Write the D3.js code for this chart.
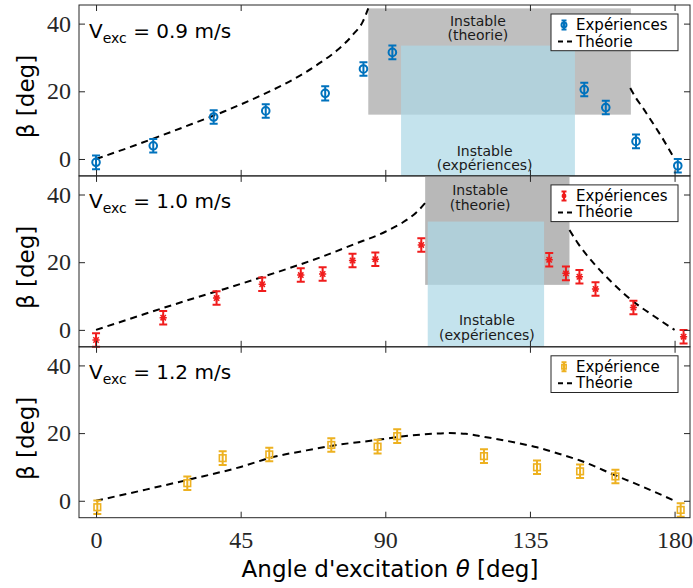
<!DOCTYPE html>
<html>
<head>
<meta charset="utf-8">
<script src="https://cdn.jsdelivr.net/npm/d3@7"></script>
<style>
  body { margin: 0; background: #fff; }
  svg { display: block; }
</style>
</head>
<body>
<svg class="chart"></svg>
<script>
const W = 693, H = 588;
const margin = {top: 5, left: 79, right: 3};
const panelH = 170.9;

const thetaTicks = [0, 45, 90, 135, 180];
const betaTicks = [0, 20, 40];
const speeds = ['0.9', '1.0', '1.2'];
const legendNames = ['Expériences', 'Expériences', 'Expérience'];

// V = 0.9 m/s
const theta09 = [0, 17.8, 36.6, 52.8, 71.3, 83.2, 92.2, 151.9, 158.6, 168.0, 181.0];
const beta09  = [-1.0, 3.9, 12.4, 14.2, 19.4, 26.6, 31.5, 20.5, 15.2, 5.2, -2.0];
const err09   = [2, 2, 2, 2, 2.1, 2, 2, 2, 2, 2, 2];
const theoL09 = [[0, 0], [10, 3.3], [20, 6.8], [30, 10.4], [40, 14.1], [50, 18.2], [60, 22.8], [65, 25.5], [70, 28.6], [75, 32.1], [80, 36.8], [83, 40.6], [84.7, 44.5]];
const theoR09 = [[166.2, 21], [168, 18], [170, 15.3], [172, 12.4], [174, 9.5], [176, 6.5], [178, 3.3], [180, 0]];
const unstTheo09 = [84.7, 166.4, 13.1, 44.5];
const unstExp09  = [94.9, 149.0, -8, 33.5];
const labelPos09 = [118.8, 120.9];   // theta of the two "Instable" captions

// V = 1.0 m/s
const theta10 = [0, 20.9, 37.5, 51.7, 63.7, 70.5, 79.8, 86.9, 101.2, 141.0, 146.2, 150.4, 155.4, 167.2, 182.8];
const beta10  = [-3.0, 3.6, 9.4, 13.5, 16.2, 16.5, 20.5, 20.9, 25.1, 20.7, 16.7, 15.7, 12.1, 6.6, -2.0];
const err10   = [2, 2, 2, 2, 2, 2, 2, 2, 2, 2, 2, 2, 2, 2, 2];
const theoL10 = [[0, 0], [10, 3.1], [20, 6.2], [30, 9.2], [40, 12.1], [50, 15.1], [60, 18.2], [70, 21.5], [80, 25.2], [90, 29], [95, 31.5], [100, 35], [102.4, 37.5]];
const theoR10 = [[147.3, 29.5], [150, 25.5], [155, 19.5], [160, 14.5], [167, 8.5], [174, 3.8], [180, 0]];
const unstTheo10 = [102.4, 147.3, 13.3, 47];
const unstExp10  = [103.2, 139.4, -8, 32];
const labelPos10 = [119.5, 121.6];

// V = 1.2 m/s
const theta12 = [0.4, 28.4, 39.4, 53.9, 73.2, 87.6, 93.7, 120.7, 137.2, 150.6, 161.6, 181.9];
const beta12  = [-1.9, 5.2, 12.6, 13.7, 16.5, 16.0, 19.1, 13.2, 9.9, 8.7, 7.2, -2.7];
const err12   = [2, 2, 2, 2, 2, 2, 2, 2, 2, 2, 2, 2];
const theo12  = [[0, 0], [15, 3.2], [30, 6.5], [45, 10], [55, 12.9], [65, 14.8], [75, 16.5], [87.6, 18], [95, 19], [105, 19.8], [110, 20], [115, 19.8], [120.7, 18.9], [130, 17.3], [137.2, 15.8], [145, 13.6], [150.6, 11.9], [161.6, 7.5], [170, 4.2], [180, 0]];

const panels = [
  {v: speeds[0], theta: theta09, beta: beta09, err: err09, curves: [theoL09, theoR09], color: '#0072bd', marker: 'circle',
   gray: unstTheo09, grayFill: '#bfbfbf', cyan: unstExp09, labels: labelPos09, legend: legendNames[0]},
  {v: speeds[1], theta: theta10, beta: beta10, err: err10, curves: [theoL10, theoR10], color: '#f01c1c', marker: 'star',
   gray: unstTheo10, grayFill: '#b8b8b8', cyan: unstExp10, labels: labelPos10, legend: legendNames[1]},
  {v: speeds[2], theta: theta12, beta: beta12, err: err12, curves: [theo12], color: '#edb120', marker: 'square',
   gray: null, cyan: null, labels: null, legend: legendNames[2]}
];

const svg = d3.select('.chart').attr('width', W).attr('height', H);

const x = d3.scaleLinear().domain([-5.3, 184.8]).range([margin.left, W - margin.right]);
const y = d3.scaleLinear().domain([-5, 45.5]).range([panelH, 0]);

const axisColor = '#262626';
const tickFont = '"Liberation Serif", "DejaVu Serif", serif';
const sansFont = '"DejaVu Sans", sans-serif';

const line = d3.line().x(d => x(d[0])).y(d => y(d[1])).curve(d3.curveMonotoneX);

function drawMarker(g, kind, cx, cy, color, s) {
  if (kind === 'circle') {
    g.append('circle').attr('cx', cx).attr('cy', cy).attr('r', 3.8 * s)
      .attr('fill', 'none').attr('stroke', color).attr('stroke-width', 2);
  } else if (kind === 'square') {
    g.append('rect').attr('x', cx - 3.3 * s).attr('y', cy - 3.3 * s)
      .attr('width', 6.6 * s).attr('height', 6.6 * s)
      .attr('fill', 'none').attr('stroke', color).attr('stroke-width', 1.6);
  } else {
    const r = 3.6 * s;
    g.append('path')
      .attr('d', `M${cx - r},${cy}H${cx + r}M${cx},${cy - r}V${cy + r}` +
        `M${cx - r * 0.75},${cy - r * 0.75}L${cx + r * 0.75},${cy + r * 0.75}` +
        `M${cx - r * 0.75},${cy + r * 0.75}L${cx + r * 0.75},${cy - r * 0.75}`)
      .attr('stroke', color).attr('stroke-width', 1.5).attr('fill', 'none');
  }
}

function errorBar(g, cx, y0, y1, capW, color) {
  g.append('path')
    .attr('d', `M${cx},${y0}V${y1}M${cx - capW},${y0}H${cx + capW}M${cx - capW},${y1}H${cx + capW}`)
    .attr('stroke', color).attr('stroke-width', 2).attr('fill', 'none');
}

function twoLines(g, cx, y0, a, b) {
  const t = g.append('text').attr('x', cx).attr('y', y0)
    .attr('text-anchor', 'middle').style('font-family', sansFont).style('font-size', '14px').attr('fill', '#1a1a1a');
  t.append('tspan').attr('x', cx).text(a);
  t.append('tspan').attr('x', cx).attr('dy', 14.5).text(b);
}

panels.forEach((p, i) => {
  const top = margin.top + i * panelH;
  const g = svg.append('g').attr('transform', `translate(0,${top})`);

  const clipId = 'clip' + i;
  g.append('clipPath').attr('id', clipId)
    .append('rect').attr('x', x.range()[0]).attr('y', 0)
    .attr('width', x.range()[1] - x.range()[0]).attr('height', panelH);

  const plot = g.append('g').attr('clip-path', `url(#${clipId})`);

  // unstable regions
  if (p.gray) {
    plot.append('rect')
      .attr('x', x(p.gray[0])).attr('width', x(p.gray[1]) - x(p.gray[0]))
      .attr('y', y(p.gray[3])).attr('height', y(p.gray[2]) - y(p.gray[3]))
      .attr('fill', p.grayFill);
    plot.append('rect')
      .attr('x', x(p.cyan[0])).attr('width', x(p.cyan[1]) - x(p.cyan[0]))
      .attr('y', y(p.cyan[3])).attr('height', y(p.cyan[2]) - y(p.cyan[3]))
      .attr('fill', '#add8e6').attr('fill-opacity', 0.72);

    twoLines(plot, x(p.labels[0]), i === 0 ? 20.5 : 19.5, 'Instable', '(theorie)');
    twoLines(plot, x(p.labels[1]), i === 0 ? 150.5 : 149.5, 'Instable', '(expériences)');
  }

  // theory curves
  p.curves.forEach(c => {
    plot.append('path').datum(c).attr('d', line)
      .attr('fill', 'none').attr('stroke', '#000').attr('stroke-width', 2)
      .attr('stroke-dasharray', '7,5');
  });

  // experiments
  const pts = p.theta.map((t, k) => ({t, b: p.beta[k], e: p.err[k]}));
  pts.forEach(d => {
    errorBar(g, x(d.t), y(d.b - d.e), y(d.b + d.e), 4, p.color);
    drawMarker(g, p.marker, x(d.t), y(d.b), p.color, 1);
  });

  // frame and ticks
  g.append('rect').attr('x', x.range()[0]).attr('y', 0)
    .attr('width', x.range()[1] - x.range()[0]).attr('height', panelH)
    .attr('fill', 'none').attr('stroke', axisColor).attr('stroke-width', 1);

  const yl = g.append('g').attr('transform', `translate(${x.range()[0]},0)`)
    .call(d3.axisLeft(y).tickValues(betaTicks).tickSizeInner(-6).tickSizeOuter(0).tickPadding(8));
  const yr = g.append('g').attr('transform', `translate(${x.range()[1]},0)`)
    .call(d3.axisRight(y).tickValues(betaTicks).tickSizeInner(-6).tickSizeOuter(0).tickFormat(''));
  const xt = g.append('g').attr('transform', 'translate(0,0)')
    .call(d3.axisTop(x).tickValues(thetaTicks).tickSizeInner(-6).tickSizeOuter(0).tickFormat(''));
  const xb = g.append('g').attr('transform', `translate(0,${panelH})`)
    .call(d3.axisBottom(x).tickValues(thetaTicks).tickSizeInner(-6).tickSizeOuter(0).tickPadding(13)
      .tickFormat(i === panels.length - 1 ? d3.format('d') : ''));

  [yl, yr, xt, xb].forEach(a => {
    a.select('.domain').remove();
    a.selectAll('line').attr('stroke', axisColor);
    a.selectAll('text').attr('fill', axisColor).style('font-family', tickFont).style('font-size', '24px');
  });

  // speed label
  const vt = g.append('text').attr('x', 89).attr('y', 32.5)
    .style('font-family', sansFont).style('font-size', '20px').attr('fill', '#000');
  vt.append('tspan').text('V');
  vt.append('tspan').attr('dy', 5).style('font-size', '14px').text('exc');
  vt.append('tspan').attr('dy', -5).text(' = ' + p.v + ' m/s');

  // y label
  g.append('text')
    .attr('transform', `translate(34,${91.5}) rotate(-90)`)
    .attr('text-anchor', 'middle')
    .style('font-family', sansFont).style('font-size', '23px').attr('fill', '#000')
    .text('β [deg]');

  // legend
  const lg = g.append('g').attr('transform', 'translate(551,9)');
  lg.append('rect').attr('width', 127).attr('height', 36.7)
    .attr('fill', '#fff').attr('stroke', axisColor).attr('stroke-width', 1);
  errorBar(lg, 13, 6.5, 15.5, 2.5, p.color);
  drawMarker(lg, p.marker, 13, 11, p.color, 0.65);
  lg.append('line').attr('x1', 7).attr('x2', 21).attr('y1', 27.5).attr('y2', 27.5)
    .attr('stroke', '#000').attr('stroke-width', 2).attr('stroke-dasharray', '5,4');
  lg.append('text').attr('x', 25).attr('y', 16)
    .style('font-family', sansFont).style('font-size', '15px').attr('fill', '#000').text(p.legend);
  lg.append('text').attr('x', 25).attr('y', 32.5)
    .style('font-family', sansFont).style('font-size', '15px').attr('fill', '#000').text('Théorie');
});

// x label
const xl = svg.append('text').attr('x', 390).attr('y', 577)
  .attr('text-anchor', 'middle')
  .style('font-family', sansFont).style('font-size', '23px').attr('fill', '#000');
xl.append('tspan').text("Angle d'excitation ");
xl.append('tspan').style('font-style', 'italic').text('θ');
xl.append('tspan').text(' [deg]');
</script>
</body>
</html>
